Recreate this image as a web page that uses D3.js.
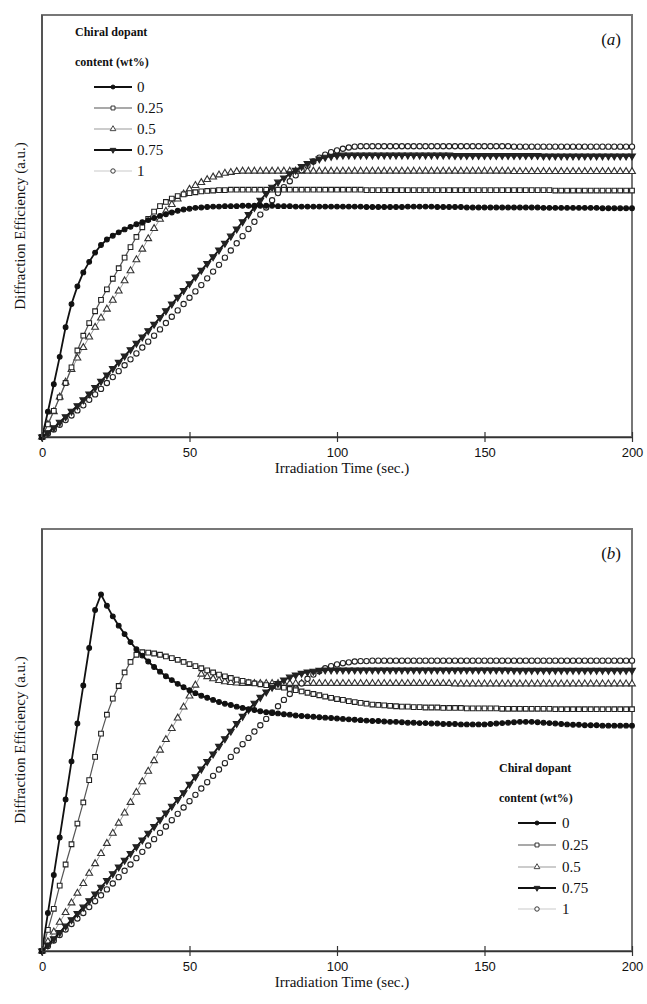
<!DOCTYPE html>
<html><head><meta charset="utf-8">
<script src="https://cdn.jsdelivr.net/npm/d3@7/dist/d3.min.js"></script>
<style>body{margin:0;background:#fff}</style></head>
<body>
<svg id="chart" width="647" height="1004"></svg>
<script>
// ---------- DATA ----------
const times = d3.range(0, 201, 2); // irradiation time (sec), sampled every 2 s
const xTickValues = [0, 50, 100, 150, 200];
const seriesNames = ["0", "0.25", "0.5", "0.75", "1"];
const legendTitle = ["Chiral dopant", "content (wt%)"];

// Panel (a)
const a_0 = [0,0.06,0.125,0.19,0.26,0.315,0.357,0.39,0.415,0.437,
 0.455,0.468,0.477,0.485,0.492,0.498,0.504,0.509,0.514,0.519,
 0.524,0.528,0.532,0.536,0.539,0.541,0.543,0.544,0.545,0.546,
 0.546,0.547,0.547,0.547,0.548,0.548,0.548,0.548,0.548,0.548,
 0.547,0.547,0.547,0.546,0.546,0.546,0.546,0.546,0.546,0.546,
 0.546,0.546,0.546,0.546,0.546,0.545,0.545,0.545,0.545,0.545,
 0.545,0.545,0.546,0.546,0.546,0.546,0.546,0.545,0.545,0.545,
 0.545,0.545,0.544,0.544,0.544,0.544,0.544,0.544,0.544,0.544,
 0.544,0.544,0.544,0.544,0.544,0.543,0.543,0.543,0.543,0.543,
 0.543,0.543,0.543,0.543,0.543,0.542,0.542,0.542,0.542,0.542,
 0.542];
const a_025 = [0,0.03,0.062,0.094,0.128,0.165,0.205,0.24,0.27,0.298,
 0.325,0.35,0.375,0.4,0.425,0.45,0.474,0.497,0.517,0.534,
 0.547,0.557,0.565,0.571,0.575,0.578,0.58,0.582,0.583,0.584,
 0.585,0.585,0.586,0.586,0.586,0.586,0.586,0.586,0.586,0.586,
 0.586,0.586,0.586,0.586,0.586,0.586,0.586,0.586,0.586,0.586,
 0.586,0.586,0.586,0.586,0.586,0.585,0.585,0.585,0.585,0.585,
 0.585,0.585,0.585,0.585,0.585,0.585,0.585,0.585,0.585,0.585,
 0.585,0.585,0.585,0.585,0.585,0.585,0.585,0.585,0.585,0.585,
 0.585,0.585,0.585,0.585,0.585,0.585,0.585,0.584,0.584,0.584,
 0.584,0.584,0.584,0.584,0.584,0.584,0.584,0.584,0.584,0.584,
 0.584];
const a_05 = [0,0.03,0.06,0.095,0.13,0.16,0.187,0.212,0.237,0.26,
 0.282,0.303,0.324,0.346,0.37,0.394,0.42,0.445,0.47,0.494,
 0.516,0.535,0.551,0.564,0.576,0.587,0.596,0.603,0.61,0.616,
 0.621,0.625,0.627,0.629,0.63,0.63,0.63,0.63,0.63,0.63,
 0.63,0.63,0.63,0.63,0.63,0.63,0.63,0.63,0.63,0.63,
 0.63,0.63,0.63,0.63,0.63,0.63,0.63,0.63,0.63,0.63,
 0.63,0.63,0.63,0.63,0.63,0.63,0.63,0.63,0.63,0.63,
 0.63,0.63,0.63,0.63,0.63,0.63,0.63,0.63,0.63,0.63,
 0.629,0.629,0.629,0.629,0.629,0.629,0.629,0.629,0.629,0.629,
 0.629,0.629,0.629,0.629,0.629,0.629,0.629,0.629,0.629,0.629,
 0.629];
const a_075 = [0,0.01,0.022,0.035,0.048,0.061,0.074,0.088,0.102,0.117,
 0.132,0.147,0.162,0.177,0.192,0.207,0.222,0.237,0.252,0.267,
 0.283,0.299,0.315,0.331,0.347,0.363,0.379,0.395,0.411,0.427,
 0.443,0.459,0.476,0.493,0.51,0.527,0.544,0.561,0.577,0.592,
 0.604,0.614,0.624,0.632,0.641,0.648,0.654,0.659,0.663,0.665,
 0.667,0.668,0.668,0.668,0.668,0.668,0.668,0.668,0.668,0.668,
 0.668,0.668,0.668,0.668,0.668,0.668,0.668,0.668,0.668,0.668,
 0.667,0.667,0.667,0.667,0.667,0.667,0.667,0.667,0.667,0.667,
 0.667,0.667,0.667,0.667,0.667,0.666,0.666,0.666,0.666,0.666,
 0.666,0.666,0.666,0.666,0.666,0.666,0.666,0.666,0.666,0.666,
 0.666];
const a_1 = [0,0.008,0.018,0.029,0.04,0.051,0.063,0.075,0.088,0.101,
 0.114,0.128,0.142,0.156,0.17,0.184,0.198,0.212,0.226,0.24,
 0.255,0.27,0.285,0.3,0.315,0.33,0.345,0.36,0.376,0.392,
 0.408,0.425,0.442,0.459,0.476,0.493,0.51,0.527,0.544,0.561,
 0.578,0.592,0.606,0.62,0.632,0.643,0.653,0.662,0.669,0.675,
 0.679,0.683,0.686,0.688,0.689,0.689,0.689,0.689,0.689,0.689,
 0.689,0.689,0.689,0.689,0.689,0.689,0.689,0.689,0.689,0.689,
 0.689,0.689,0.689,0.689,0.689,0.689,0.689,0.689,0.689,0.689,
 0.688,0.688,0.688,0.688,0.688,0.688,0.688,0.688,0.688,0.688,
 0.688,0.688,0.688,0.688,0.688,0.688,0.688,0.688,0.688,0.688,
 0.688];

// Panel (b)
const b_0 = [0,0.09,0.18,0.269,0.359,0.449,0.539,0.629,0.718,0.808,
 0.845,0.818,0.793,0.771,0.751,0.732,0.715,0.7,0.686,0.673,
 0.662,0.651,0.642,0.633,0.625,0.618,0.611,0.605,0.6,0.595,
 0.59,0.586,0.583,0.579,0.576,0.573,0.571,0.568,0.566,0.564,
 0.563,0.561,0.56,0.558,0.557,0.556,0.555,0.554,0.553,0.552,
 0.551,0.55,0.549,0.548,0.547,0.546,0.545,0.545,0.544,0.543,
 0.543,0.542,0.541,0.541,0.54,0.54,0.539,0.539,0.538,0.538,
 0.538,0.537,0.537,0.537,0.537,0.537,0.538,0.539,0.54,0.541,
 0.542,0.543,0.543,0.543,0.542,0.541,0.54,0.539,0.538,0.537,
 0.536,0.536,0.535,0.535,0.535,0.534,0.534,0.534,0.534,0.534,
 0.534];
const b_025 = [0,0.05,0.1,0.155,0.205,0.253,0.302,0.352,0.405,0.46,
 0.515,0.56,0.598,0.628,0.66,0.685,0.702,0.708,0.707,0.705,
 0.702,0.698,0.694,0.69,0.685,0.68,0.675,0.67,0.665,0.66,
 0.655,0.651,0.647,0.643,0.64,0.637,0.634,0.632,0.63,0.628,
 0.626,0.624,0.621,0.618,0.615,0.612,0.609,0.606,0.603,0.6,
 0.597,0.595,0.592,0.59,0.588,0.586,0.584,0.583,0.582,0.581,
 0.58,0.579,0.579,0.578,0.578,0.577,0.577,0.577,0.576,0.576,
 0.576,0.576,0.575,0.575,0.575,0.575,0.575,0.575,0.574,0.574,
 0.574,0.574,0.574,0.574,0.574,0.574,0.574,0.573,0.573,0.573,
 0.573,0.573,0.573,0.573,0.573,0.573,0.573,0.573,0.573,0.573,
 0.573];
const b_05 = [0,0.022,0.045,0.068,0.091,0.114,0.137,0.16,0.184,0.207,
 0.231,0.255,0.279,0.303,0.327,0.352,0.376,0.401,0.426,0.451,
 0.476,0.501,0.527,0.552,0.578,0.604,0.63,0.656,0.65,0.645,
 0.641,0.638,0.636,0.635,0.634,0.634,0.634,0.634,0.634,0.634,
 0.634,0.634,0.634,0.634,0.634,0.634,0.634,0.634,0.634,0.634,
 0.634,0.634,0.634,0.634,0.634,0.634,0.634,0.634,0.634,0.634,
 0.634,0.634,0.634,0.634,0.634,0.634,0.634,0.634,0.634,0.634,
 0.633,0.633,0.633,0.633,0.633,0.633,0.633,0.633,0.633,0.633,
 0.633,0.633,0.633,0.633,0.633,0.633,0.633,0.633,0.633,0.633,
 0.633,0.633,0.633,0.633,0.633,0.633,0.633,0.633,0.633,0.633,
 0.633];
const b_075 = [0,0.014,0.029,0.044,0.059,0.074,0.089,0.104,0.119,0.135,
 0.151,0.167,0.183,0.199,0.215,0.231,0.247,0.263,0.279,0.295,
 0.311,0.327,0.343,0.359,0.375,0.395,0.413,0.431,0.449,0.467,
 0.485,0.503,0.521,0.539,0.556,0.572,0.587,0.601,0.614,0.625,
 0.634,0.642,0.649,0.654,0.658,0.661,0.663,0.665,0.666,0.666,
 0.666,0.666,0.666,0.666,0.666,0.666,0.666,0.666,0.666,0.666,
 0.666,0.666,0.666,0.666,0.666,0.666,0.666,0.666,0.666,0.666,
 0.666,0.666,0.666,0.666,0.666,0.666,0.666,0.666,0.666,0.666,
 0.665,0.665,0.665,0.665,0.665,0.665,0.665,0.665,0.665,0.665,
 0.665,0.665,0.665,0.665,0.665,0.665,0.665,0.665,0.665,0.665,
 0.665];
const b_1 = [0,0.012,0.025,0.038,0.051,0.064,0.077,0.09,0.104,0.118,
 0.132,0.146,0.16,0.175,0.19,0.205,0.22,0.235,0.25,0.265,
 0.28,0.295,0.31,0.325,0.34,0.355,0.37,0.385,0.4,0.415,
 0.43,0.445,0.46,0.475,0.49,0.505,0.52,0.535,0.55,0.565,
 0.58,0.595,0.609,0.622,0.634,0.645,0.655,0.663,0.67,0.675,
 0.679,0.682,0.684,0.686,0.687,0.687,0.688,0.688,0.688,0.688,
 0.688,0.688,0.688,0.688,0.688,0.688,0.688,0.688,0.688,0.688,
 0.688,0.688,0.688,0.688,0.688,0.688,0.688,0.688,0.688,0.688,
 0.688,0.688,0.688,0.688,0.688,0.688,0.688,0.688,0.688,0.688,
 0.688,0.688,0.688,0.688,0.688,0.688,0.688,0.688,0.688,0.688,
 0.688];

const panelAValues = [a_0, a_025, a_05, a_075, a_1];
const panelBValues = [b_0, b_025, b_05, b_075, b_1];

// ---------- STYLE ----------
const styles = [
  {line:"#111", lw:1.8, sym:d3.symbolCircle, size:18, fill:"#111", stroke:"#111", rot:0},
  {line:"#555", lw:1.2, sym:d3.symbolSquare, size:22, fill:"#fff", stroke:"#222", rot:0},
  {line:"#999", lw:1.0, sym:d3.symbolTriangle, size:20, fill:"#fff", stroke:"#333", rot:0},
  {line:"#111", lw:1.8, sym:d3.symbolTriangle, size:20, fill:"#222", stroke:"#222", rot:180},
  {line:"#bbb", lw:0.8, sym:d3.symbolCircle, size:22, fill:"#fff", stroke:"#222", rot:0}
];
const drawOrder = [2, 4, 1, 3, 0];

const svg = d3.select("#chart");
const serif = "'Liberation Serif','Times New Roman','DejaVu Serif',serif";
const sans = "'Liberation Sans',Arial,sans-serif";

const panels = [
  {tag:"a", values:panelAValues, top:15, bottom:437, legend:{x:75, y:32, lx1:94, lx2:132, tx:137, ey:[87,108,129,150,171]}},
  {tag:"b", values:panelBValues, top:529, bottom:951, legend:{x:499, y:768, lx1:518, lx2:556, tx:562, ey:[823,845,867,888,909]}}
];
const left = 42, right = 632;

panels.forEach(p => {
  const x = d3.scaleLinear().domain([0, 200]).range([left, right]);
  const y = d3.scaleLinear().domain([0, 1]).range([p.bottom, p.top]);
  const g = svg.append("g");

  g.append("rect").attr("x", left).attr("y", p.top).attr("width", right-left).attr("height", p.bottom-p.top)
    .attr("fill", "none").attr("stroke", "#777").attr("stroke-width", 2);

  const line = d3.line().x((d,i)=>x(times[i])).y(d=>y(d));
  drawOrder.forEach(si => {
    const st = styles[si];
    const vals = p.values[si];
    g.append("path").datum(vals).attr("d", line).attr("fill","none")
      .attr("stroke", st.line).attr("stroke-width", st.lw);
    const sym = d3.symbol().type(st.sym).size(st.size);
    g.selectAll(null).data(vals).join("path")
      .attr("d", sym)
      .attr("transform", (d,i)=>`translate(${x(times[i])},${y(d)}) rotate(${st.rot})`)
      .attr("fill", st.fill).attr("stroke", st.stroke).attr("stroke-width", 1.1);
  });

  g.append("line").attr("x1", left).attr("x2", left).attr("y1", p.top).attr("y2", p.bottom)
    .attr("stroke", "#555").attr("stroke-width", 2);
  const xAxis = d3.axisBottom(x).tickValues(xTickValues).tickSize(5).tickSizeOuter(0).tickPadding(6);
  const ax = g.append("g").attr("transform", `translate(0,${p.bottom})`).call(xAxis);
  ax.select(".domain").attr("stroke", "#333").attr("stroke-width", 1.6);
  ax.selectAll(".tick line").attr("stroke", "#333").attr("stroke-width", 1.2).attr("y1", -5);
  ax.selectAll(".tick text").attr("font-family", sans).attr("font-size", 13).attr("fill", "#111");

  g.append("text").attr("x", (left+right)/2 + 5).attr("y", p.bottom + 36)
    .attr("text-anchor", "middle").attr("font-family", serif).attr("font-size", 15).attr("fill", "#111")
    .text("Irradiation Time (sec.)");
  g.append("text").attr("transform", `translate(25,${(p.top+p.bottom)/2}) rotate(-90)`)
    .attr("text-anchor", "middle").attr("font-family", serif).attr("font-size", 15).attr("fill", "#111")
    .text("Diffraction Efficiency (a.u.)");

  const tg = g.append("text").attr("x", 621).attr("y", p.top + 30).attr("text-anchor", "end")
    .attr("font-family", serif).attr("font-size", 17).attr("fill", "#111");
  tg.append("tspan").text("(");
  tg.append("tspan").attr("font-style", "italic").text(p.tag);
  tg.append("tspan").text(")");

  const L = p.legend;
  legendTitle.forEach((t, k) => {
    g.append("text").attr("x", L.x).attr("y", L.y + k*30 + 4).attr("font-family", serif)
      .attr("font-weight", "bold").attr("font-size", 12).attr("fill", "#111").text(t);
  });
  seriesNames.forEach((nm, si) => {
    const st = styles[si];
    const yy = L.ey[si];
    g.append("line").attr("x1", L.lx1).attr("x2", L.lx2).attr("y1", yy).attr("y2", yy)
      .attr("stroke", st.line).attr("stroke-width", st.lw);
    g.append("path").attr("d", d3.symbol().type(st.sym).size(st.size * 0.7)())
      .attr("transform", `translate(${(L.lx1+L.lx2)/2},${yy}) rotate(${st.rot})`)
      .attr("fill", st.fill).attr("stroke", st.stroke).attr("stroke-width", 0.9);
    g.append("text").attr("x", L.tx).attr("y", yy + 5).attr("font-family", serif)
      .attr("font-size", 15).attr("fill", "#111").text(nm);
  });
});
</script>
</body></html>
